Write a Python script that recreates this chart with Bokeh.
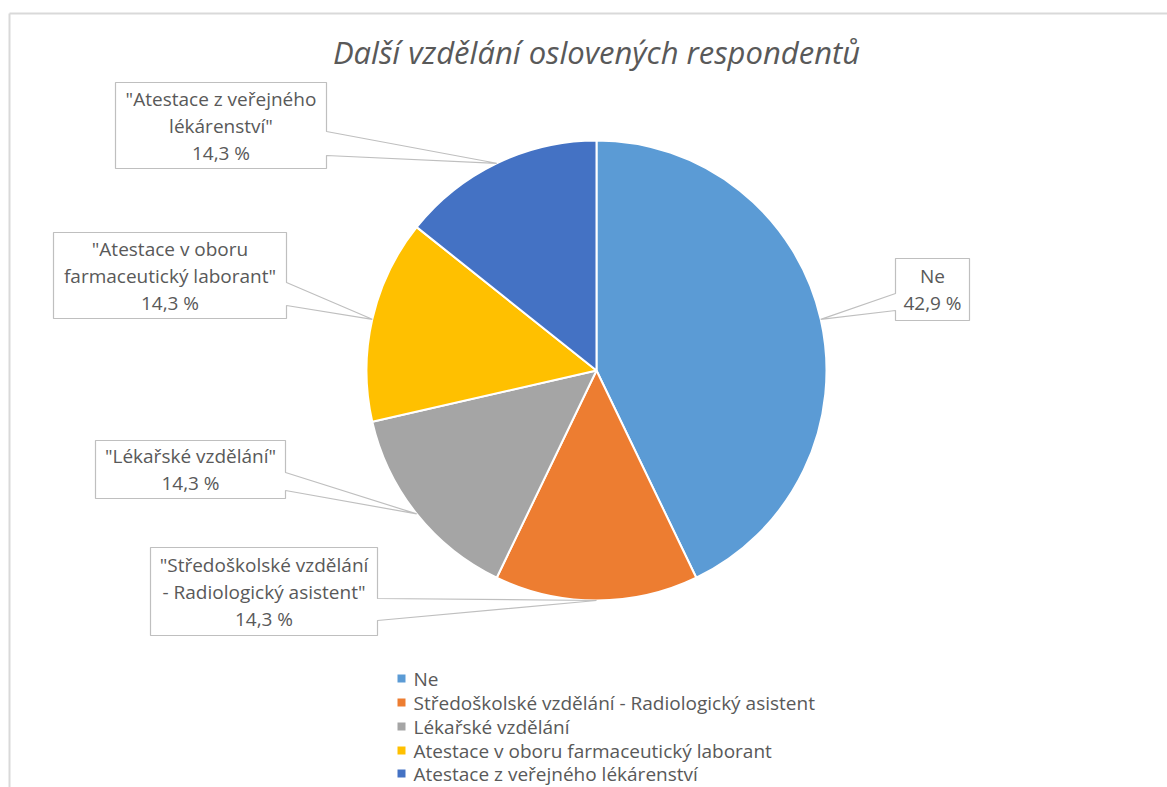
import math
from bokeh.plotting import figure
from bokeh.models import Range1d, ColumnDataSource
from bokeh.core.properties import value
from bokeh.embed import file_html
from bokeh.resources import INLINE

# ---- data ----
title = "Další vzdělání oslovených respondentů"
categories = ["Ne",
              "Středoškolské vzdělání - Radiologický asistent",
              "Lékařské vzdělání",
              "Atestace v oboru farmaceutický laborant",
              "Atestace z veřejného lékárenství"]
counts = [3, 1, 1, 1, 1]
label_lines = [["Ne"],
               ["\"Středoškolské vzdělání", "- Radiologický asistent\""],
               ["\"Lékařské vzdělání\""],
               ["\"Atestace v oboru", "farmaceutický laborant\""],
               ["\"Atestace z veřejného", "lékárenství\""]]
colors = ["#5B9BD5", "#ED7D31", "#A5A5A5", "#FFC000", "#4472C4"]

# ---- layout (image pixel coordinates) ----
W, H = 1167, 787
def Y(img_y):
    return H - img_y

cx, cy, R = 596, Y(370), 230
# callout boxes: x0, x1, y0, y1, side of spike, spike y top, spike y bottom
boxes = [(895, 969, 258, 320, "left", 293, 310),
         (150, 377, 547, 635, "right", 598, 620),
         (95, 285, 440, 498, "right", 472, 490),
         (53, 286, 232, 318, "right", 282, 305),
         (115, 326, 82, 168, "right", 131, 155)]
TXT = "#595959"
FONT = value("Open Sans")

p = figure(width=W, height=H, output_backend="svg", toolbar_location=None,
           x_range=Range1d(0, W), y_range=Range1d(0, H),
           min_border=0, outline_line_color=None, background_fill_color="white",
           border_fill_color="white")
p.axis.visible = False
p.xgrid.visible = False
p.ygrid.visible = False

# chart area frame (left and top edges visible)
p.line([9, 9], [Y(13), Y(800)], line_color="#d9d9d9", line_width=2)
p.line([9, 1180], [Y(13), Y(13)], line_color="#d9d9d9", line_width=2)

# title
p.text(x=[596], y=[Y(51)], text=[title], text_font=FONT, text_font_style="italic",
       text_font_size="31px", text_color=TXT, text_align="center", text_baseline="middle")

# pie
total = sum(counts)
cum = 0.0
starts, ends, mids = [], [], []
for c in counts:
    s = cum / total * 2 * math.pi
    cum += c
    e = cum / total * 2 * math.pi
    starts.append(math.pi / 2 - e)
    ends.append(math.pi / 2 - s)
    mids.append(math.pi / 2 - (s + e) / 2)

src = ColumnDataSource(dict(start=starts, end=ends, color=colors))
p.wedge(x=cx, y=cy, radius=R, start_angle="start", end_angle="end", direction="anticlock",
        fill_color="color", line_color="white", line_width=2, source=src)

# callouts
for i, (x0, x1, y0, y1, side, s1, s2) in enumerate(boxes):
    px = cx + R * math.cos(mids[i])
    py = cy + R * math.sin(mids[i])
    if side == "right":
        xs = [x0, x1, x1, px, x1, x1, x0]
        ys = [Y(y0), Y(y0), Y(s1), py, Y(s2), Y(y1), Y(y1)]
    else:
        xs = [x0, x1, x1, x0, x0, px, x0]
        ys = [Y(y0), Y(y0), Y(y1), Y(y1), Y(s2), py, Y(s1)]
    p.patch(xs, ys, fill_color="white", line_color="#bfbfbf", line_width=1.2)
    pct = counts[i] / total * 100
    lines = label_lines[i] + [("%.1f" % pct).replace(".", ",") + " %"]
    n = len(lines)
    yc = (y0 + y1) / 2
    tys = [Y(yc + (k - (n - 1) / 2) * 27) for k in range(n)]
    p.text(x=[(x0 + x1) / 2] * n, y=tys, text=lines, text_font=FONT, text_font_size="19px",
           text_color=TXT, text_align="center", text_baseline="middle")

# legend
leg_y = [678, 702, 726, 750, 773]
p.rect(x=[401] * len(categories), y=[Y(v) for v in leg_y], width=8, height=8,
       fill_color=colors, line_color=None)
p.text(x=[413] * len(categories), y=[Y(v) for v in leg_y], text=categories, text_font=FONT,
       text_font_size="19px", text_color=TXT, text_align="left", text_baseline="middle")

open("out.html", "w").write(file_html(p, INLINE))
